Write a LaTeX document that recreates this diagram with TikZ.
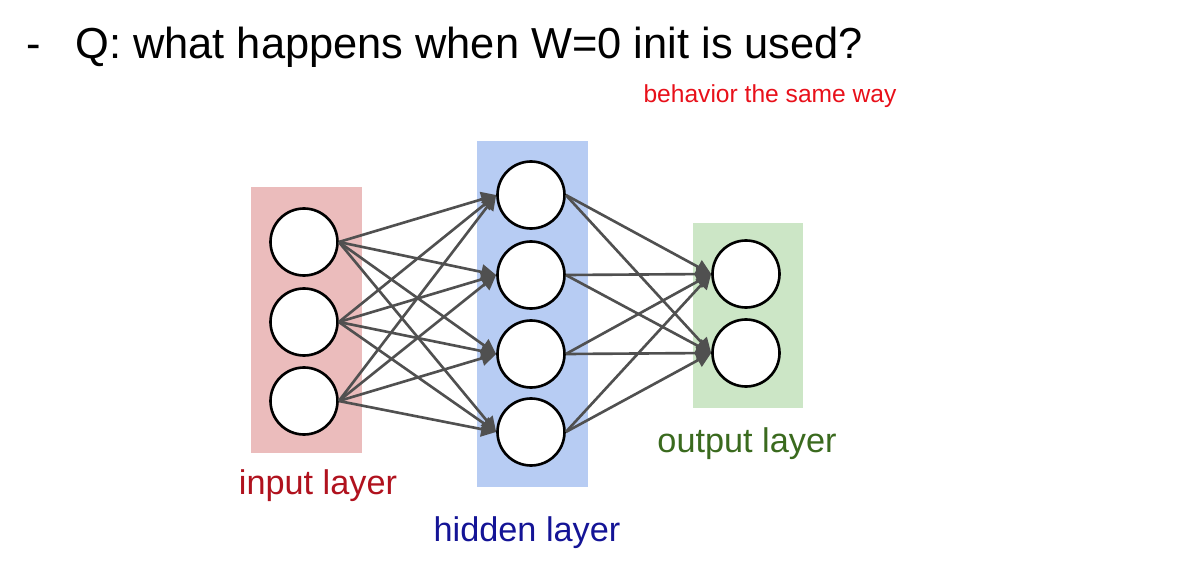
\documentclass[tikz,border=0pt]{standalone}
\usepackage{fontspec}
\setmainfont{Liberation Sans}
\usepackage{xcolor}
\definecolor{inpink}{RGB}{235, 188, 188}
\definecolor{hidblue}{RGB}{183, 204, 243}
\definecolor{outgreen}{RGB}{204, 230, 198}
\definecolor{inred}{RGB}{176, 18, 30}
\definecolor{hidnavy}{RGB}{20, 20, 150}
\definecolor{outdkgreen}{RGB}{58, 106, 30}
\definecolor{notered}{RGB}{232, 16, 26}
\definecolor{wiregray}{RGB}{80, 80, 80}
\usepackage{tikz}
\usetikzlibrary{arrows.meta, positioning}

\tikzset{
  neuron/.style={circle, draw=black, line width=1.5pt, fill=white, minimum size=1.34cm, inner sep=0pt},
  wire/.style={draw=wiregray, line width=1.5pt, -{Triangle[length=8.5pt, width=8.5pt]}},
  layerlabel/.style={font=\fontsize{19.5}{22}\selectfont}
}

\begin{document}
\begin{tikzpicture}
  \useasboundingbox (0,0) rectangle (23.92,11.36);

  % --- Title ---
  \node[font=\fontsize{24.7}{29}\selectfont, anchor=base, inner sep=0pt] (dash) at (0.68,10.2) {-};
  \node[font=\fontsize{24.7}{29}\selectfont, anchor=base west, inner sep=0pt] (title) at (1.5,10.2) {Q: what happens when W=0 init is used?};
  \node[font=\fontsize{14}{16}\selectfont, notered] (note) at (15.4,9.43) {behavior the same way};

  % --- Layer backgrounds ---
  \fill[inpink]   (5.02,2.30) rectangle (7.24,7.62);
  \fill[hidblue]  (9.54,1.62) rectangle (11.76,8.54);
  \fill[outgreen] (13.86,3.20) rectangle (16.06,6.90);

  % --- Input layer ---
  \node[neuron] (i1) at (6.08,6.52) {};
  \node[neuron] (i2) at (6.08,4.92) {};
  \node[neuron] (i3) at (6.08,3.34) {};

  % --- Hidden layer ---
  \node[neuron] (h1) at (10.62,7.46) {};
  \node[neuron] (h2) at (10.62,5.86) {};
  \node[neuron] (h3) at (10.62,4.28) {};
  \node[neuron] (h4) at (10.62,2.72) {};

  % --- Output layer ---
  \node[neuron] (o1) at (14.92,5.88) {};
  \node[neuron] (o2) at (14.92,4.30) {};

  % Input -> hidden
  \draw[wire] (i1.east) -- (h1.west);
  \draw[wire] (i1.east) -- (h2.west);
  \draw[wire] (i1.east) -- (h3.west);
  \draw[wire] (i1.east) -- (h4.west);
  \draw[wire] (i2.east) -- (h1.west);
  \draw[wire] (i2.east) -- (h2.west);
  \draw[wire] (i2.east) -- (h3.west);
  \draw[wire] (i2.east) -- (h4.west);
  \draw[wire] (i3.east) -- (h1.west);
  \draw[wire] (i3.east) -- (h2.west);
  \draw[wire] (i3.east) -- (h3.west);
  \draw[wire] (i3.east) -- (h4.west);

  % Hidden -> output
  \draw[wire] (h1.east) -- (o1.west);
  \draw[wire] (h1.east) -- (o2.west);
  \draw[wire] (h2.east) -- (o1.west);
  \draw[wire] (h2.east) -- (o2.west);
  \draw[wire] (h3.east) -- (o1.west);
  \draw[wire] (h3.east) -- (o2.west);
  \draw[wire] (h4.east) -- (o1.west);
  \draw[wire] (h4.east) -- (o2.west);

  % --- Layer labels ---
  \node[layerlabel, inred] (inlabel) at (6.36,1.64) {input layer};
  \node[layerlabel, hidnavy] (hidlabel) at (10.54,0.70) {hidden layer};
  \node[layerlabel, outdkgreen] (outlabel) at (14.94,2.48) {output layer};
\end{tikzpicture}
\end{document}
